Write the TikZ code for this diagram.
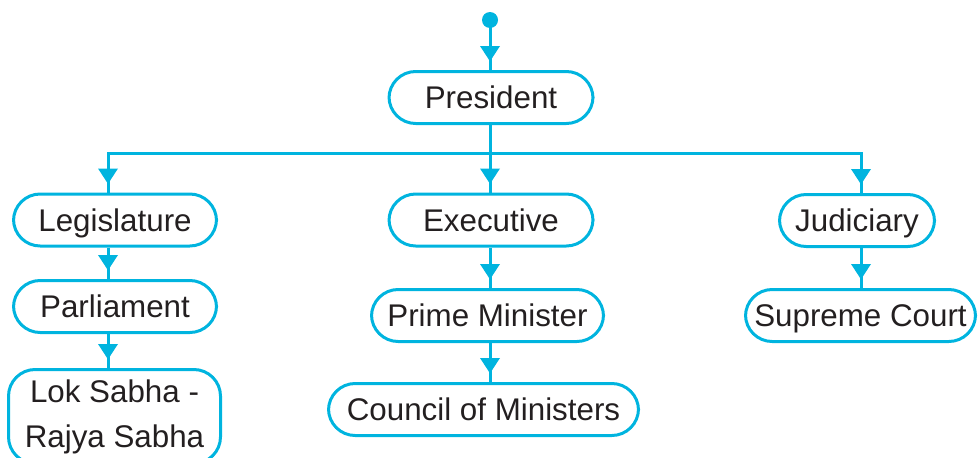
\documentclass[tikz,border=0pt]{standalone}
\usepackage{fontspec}
\setmainfont{Liberation Sans}
\usetikzlibrary{decorations.markings}
\definecolor{cy}{HTML}{00B4DF}
\definecolor{ink}{HTML}{231F20}
\begin{document}
\begin{tikzpicture}[x=0.75pt,y=-0.75pt,
  box/.style={draw=cy, line width=2.25pt, rounded corners=20pt, minimum height=39pt,
    inner sep=0pt, text=ink, font=\fontsize{23.5pt}{33.75pt}\selectfont, align=center},
  one/.style={box, text height=18pt, text depth=1.2pt},
  wire/.style={draw=cy, line width=2.25pt},
  link/.style={wire, postaction={decorate}, decoration={markings,
    mark=at position -6.5pt with {\fill[cy] (0pt,0pt) -- (-11.5pt,7.5pt) -- (-11.5pt,-7.5pt) -- cycle;}}},
  dotnode/.style={circle, fill=cy, inner sep=0pt, minimum size=12pt}
]
\clip (0,0) rectangle (978,457);
\node (dot) [dotnode] at (490,20) {};
\node (pres) [one, minimum width=153pt] at (491,97.5) {President};
\node (leg) [one, minimum width=152.25pt] at (115,220) {Legislature};
\node (parl) [one, minimum width=152.25pt] at (115,306.5) {Parliament};
\node (lok) [box, minimum width=159pt, minimum height=70.5pt] at (114.5,416.5) {Lok Sabha -\\Rajya Sabha};
\node (exe) [one, minimum width=153pt] at (491,220) {Executive};
\node (pm) [one, minimum width=174pt] at (487.5,315.5) {Prime Minister};
\node (com) [one, minimum width=232.5pt] at (483.5,409.5) {Council of Ministers};
\node (jud) [one, minimum width=116.25pt] at (857,220.5) {Judiciary};
\node (sc) [one, minimum width=172.5pt] at (860.5,315.5) {Supreme Court};
\coordinate (busL) at (108,153);
\coordinate (busR) at (861,153);
\coordinate (ex) at (490,153);
% connectors
\draw[link] (dot.center) -- (dot.center |- pres.north);
\draw[wire, line cap=rect] (busL) -- (busR);
\draw[link] (ex |- pres.south) -- (ex |- exe.north);
\draw[link] (busL) -- (busL |- leg.north);
\draw[link] (busL |- leg.south) -- (busL |- parl.north);
\draw[link] (busL |- parl.south) -- (busL |- lok.north);
\draw[link] (ex |- exe.south) -- (ex |- pm.north);
\draw[link] (ex |- pm.south) -- (ex |- com.north);
\draw[link] (busR) -- (busR |- jud.north);
\draw[link] (busR |- jud.south) -- (busR |- sc.north);
\end{tikzpicture}
\end{document}
